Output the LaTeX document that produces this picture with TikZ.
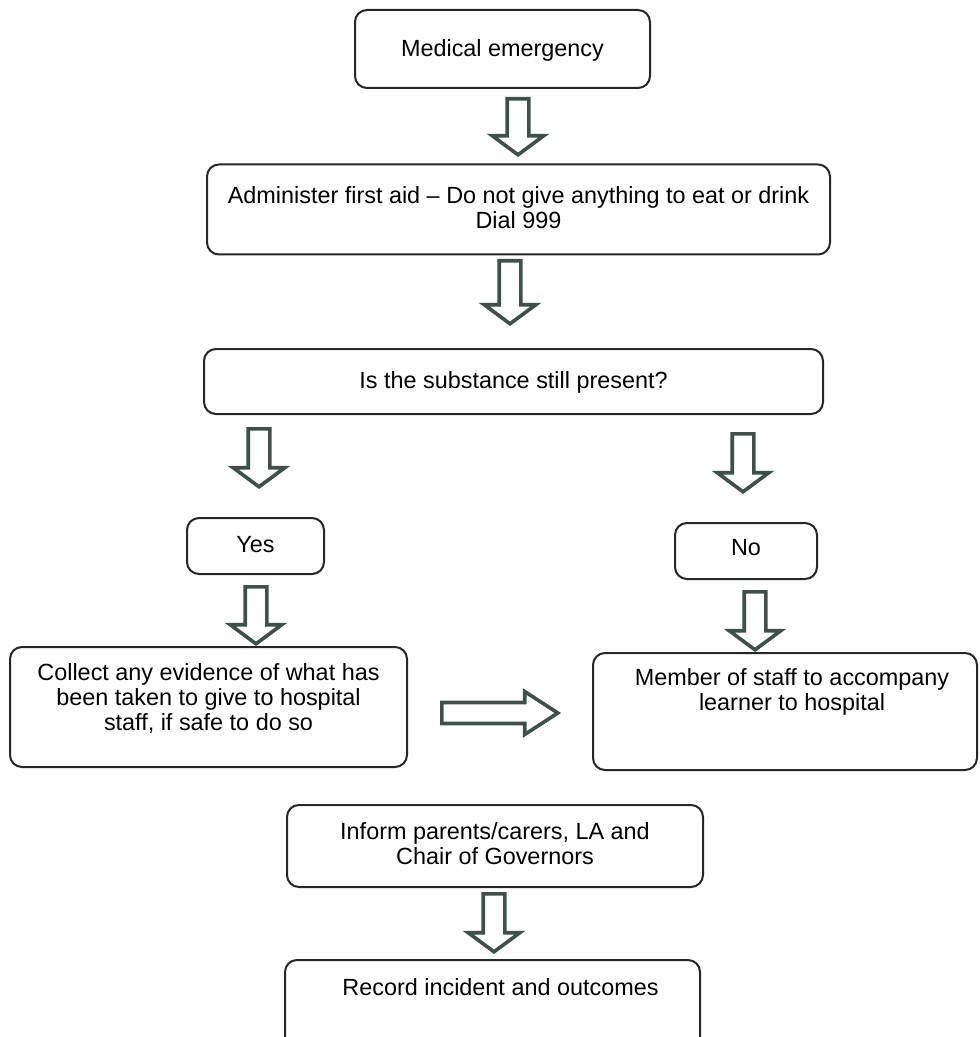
\documentclass[tikz,border=0pt]{standalone}
\usepackage{fontspec}
\setmainfont{Liberation Sans}
\usetikzlibrary{shapes.arrows,calc}

\definecolor{arrowgreen}{HTML}{3F5048}
\definecolor{inkline}{HTML}{262626}

\tikzset{
  box/.style={draw=inkline, line width=1pt, rounded corners=6pt, inner sep=0pt},
  txt/.style={align=center, inner sep=0pt, font=\fontsize{11.7}{12.5}\selectfont},
  downarrow/.style={single arrow, draw=arrowgreen, fill=white, line width=1.8pt,
    inner xsep=0pt, inner ysep=4.5pt, minimum width=0pt, rotate=-90, anchor=tail,
    single arrow head extend=7.5pt, single arrow tip angle=107},
  rightarrow/.style={single arrow, draw=arrowgreen, fill=white, line width=1.8pt,
    inner xsep=0pt, inner ysep=4.35pt, minimum width=0pt, anchor=tail,
    single arrow head extend=5.5pt, single arrow tip angle=66}
}

\begin{document}
\begin{tikzpicture}[x=0.5pt, y=-0.5pt]

    % Page frame
    \clip (0,0) rectangle (979,1037);

    % Boxes of the flow chart
    \node[box, minimum width=147.5pt, minimum height=39pt] (emergency) at (502.5,49) {};
    \node[box, minimum width=311.5pt, minimum height=45pt] (firstaid) at (518.5,209.5) {};
    \node[box, minimum width=309.5pt, minimum height=32.5pt] (present) at (513.5,381.5) {};
    \node[box, minimum width=68.5pt, minimum height=28pt] (yes) at (255.5,546) {};
    \node[box, minimum width=71pt, minimum height=28pt] (no) at (746,551) {};
    \node[box, minimum width=198.5pt, minimum height=60pt] (collect) at (208.5,707) {};
    \node[box, minimum width=192pt, minimum height=58.5pt] (member) at (785,711.5) {};
    \node[box, minimum width=208pt, minimum height=41pt] (inform) at (495,846) {};
    \node[box, minimum width=207.5pt, minimum height=50pt] (record) at (492.5,1010) {};

    % Texts of the boxes
    \node[txt] (emergency-t) at ($(emergency.center)+(0,1)$) {Medical emergency};
    \node[txt] (firstaid-t) at ($(firstaid.center)+(0,-2)$)
      {Administer first aid -- Do not give anything to eat or drink\\Dial 999};
    \node[txt] (present-t) at ($(present.center)+(0,1)$) {Is the substance still present?};
    \node[txt] (yes-t) at ($(yes.center)+(0,-1)$) {Yes};
    \node[txt] (no-t) at ($(no.center)+(0,-3)$) {No};
    \node[txt] (collect-t) at ($(collect.center)+(0,-8)$)
      {Collect any evidence of what has\\been taken to give to hospital\\staff, if safe to do so};
    \node[txt] (member-t) at ($(member.center)+(7,-20)$)
      {Member of staff to accompany\\learner to hospital};
    \node[txt] (inform-t) at ($(inform.center)+(0,-2)$)
      {Inform parents/carers, LA and\\Chair of Governors};
    \node[txt] (record-t) at ($(record.north)+(8,28)$) {Record incident and outcomes};

    % Block arrows between the boxes
    \node[downarrow, minimum height=28pt] (arrow1) at (518,97) {};
    \node[downarrow, minimum height=31.5pt] (arrow2) at (510,259) {};
    \node[downarrow, minimum height=29pt] (arrow3) at (259,427) {};
    \node[downarrow, minimum height=29pt] (arrow4) at (743,432) {};
    \node[downarrow, minimum height=28.5pt] (arrow5) at (256,585) {};
    \node[downarrow, minimum height=29pt] (arrow6) at (755,590) {};
    \node[rightarrow, minimum height=58pt] (arrow7) at (440,713) {};
    \node[downarrow, minimum height=29pt] (arrow8) at (494,892) {};

\end{tikzpicture}
\end{document}
